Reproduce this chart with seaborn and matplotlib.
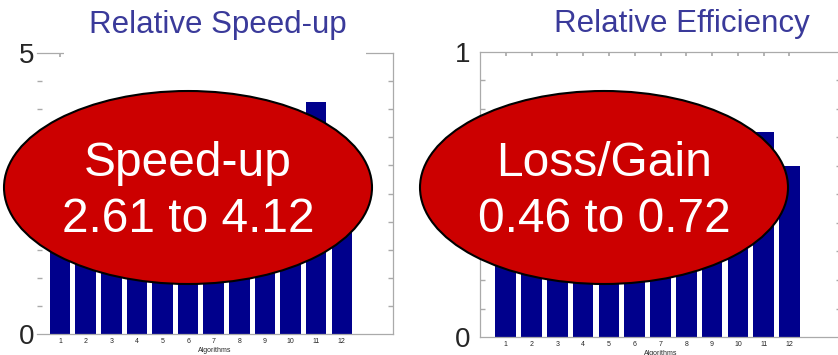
import numpy as np
import matplotlib
matplotlib.use("Agg")
import matplotlib.pyplot as plt
from matplotlib.patches import Ellipse, Rectangle
from matplotlib.ticker import MultipleLocator
import seaborn as sns

# --- data ---
algorithms = list(range(1, 13))
speedup = [2.90, 2.70, 2.61, 2.80, 3.00, 3.10, 2.90, 3.20, 3.30, 3.50, 4.12, 3.40]
efficiency = [0.50, 0.48, 0.46, 0.50, 0.52, 0.55, 0.50, 0.56, 0.58, 0.62, 0.72, 0.60]
titles = ["Relative Speed-up", "Relative Efficiency"]
bubble_text = [("Speed-up", "2.61 to 4.12"), ("Loss/Gain", "0.46 to 0.72")]

W, H = 838, 355
NAVY = "#00008c"
SPINE = "#aaaaaa"
TITLE_BLUE = "#3a3a9a"
RED = "#cc0000"

sns.set_theme(style="white")
plt.rcParams["font.family"] = ["Liberation Sans", "DejaVu Sans"]

fig = plt.figure(figsize=(W / 100, H / 100), dpi=100)


def fx(px):
    return px / W


def fy(py):
    return 1 - py / H


ax1 = fig.add_axes([fx(37), fy(334), fx(393 - 37), (334 - 53) / H])
ax2 = fig.add_axes([fx(480), fy(337), fx(841 - 480), (337 - 52) / H])

for ax, vals, ymax, step in [(ax1, speedup, 5, 0.5), (ax2, efficiency, 1, 0.1)]:
    sns.barplot(x=algorithms, y=vals, native_scale=True, color=NAVY,
                saturation=1, width=0.8, edgecolor="none", ax=ax)
    ax.set_ylim(0, ymax)
    ax.set_xticks(algorithms, labels=[str(a) for a in algorithms])
    ax.set_yticks([0, ymax], labels=["0", str(ymax)])
    ax.yaxis.set_minor_locator(MultipleLocator(step))
    ax.set_xlabel("Algorithms", fontsize=5, labelpad=1)
    ax.set_ylabel("")
    for s in ax.spines.values():
        s.set_color(SPINE)
        s.set_linewidth(0.9)
    ax.tick_params(axis="x", which="major", direction="in", length=3,
                   color=SPINE, labelsize=5, pad=3, top=True, bottom=False)
    ax.tick_params(axis="y", which="major", length=0, labelsize=20)
    ax.tick_params(axis="y", which="minor", direction="in", length=3.5,
                   color=SPINE, left=True, right=True)

ax1.set_xlim(0.1, 14)
ax1.spines["left"].set_visible(False)
ax1.tick_params(axis="y", which="major", pad=2)
ax1.tick_params(axis="y", which="minor", length=1.2)
ax1.tick_params(axis="y", which="minor", right=True, length=3.5)

ax2.set_xlim(0, 14)
ax2.tick_params(axis="y", which="major", pad=7)

# white title box hiding the middle of the left chart's top frame
fig.add_artist(Rectangle((fx(64), fy(57)), fx(366 - 64), 16 / H,
                         transform=fig.transFigure, facecolor="white",
                         edgecolor="none", zorder=1))

fig.text(fx(218), fy(33), titles[0], color=TITLE_BLUE, fontsize=22.5,
         ha="center", va="baseline", zorder=3)
fig.text(fx(682), fy(32), titles[1], color=TITLE_BLUE, fontsize=22.5,
         ha="center", va="baseline", zorder=3)

for cx, (l1, l2) in zip([188, 604], bubble_text):
    fig.add_artist(Ellipse((fx(cx), fy(187.5)), fx(368), 193 / H,
                           transform=fig.transFigure, facecolor=RED,
                           edgecolor="black", linewidth=1.5, zorder=2))
    fig.text(fx(cx), fy(176), l1, color="white", fontsize=34.5,
             ha="center", va="baseline", zorder=3)
    fig.text(fx(cx), fy(232), l2, color="white", fontsize=34.5,
             ha="center", va="baseline", zorder=3)

fig.savefig("out.png", dpi=100)
